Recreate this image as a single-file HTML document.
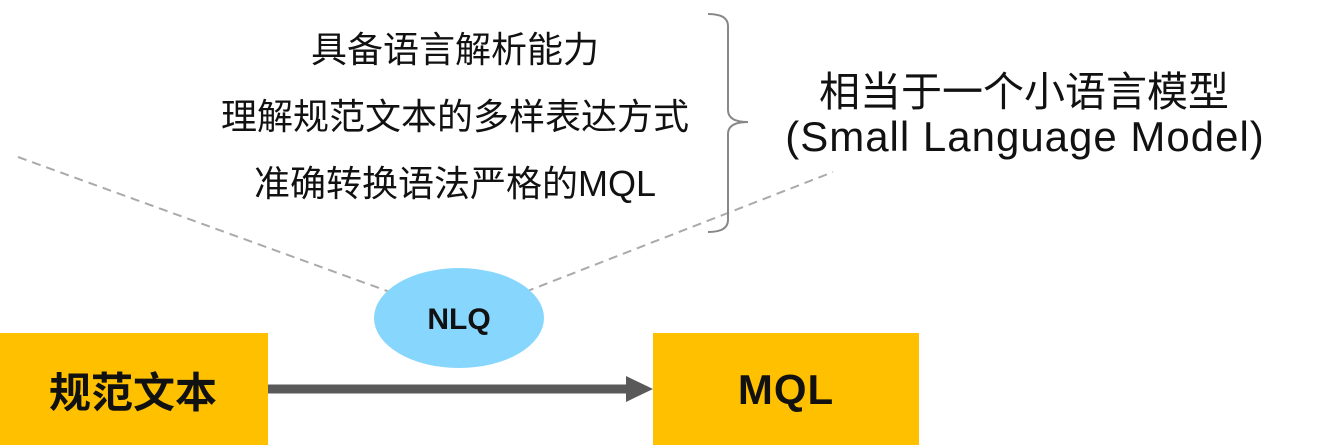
<!DOCTYPE html>
<html><head><meta charset="utf-8"><style>
body{margin:0;width:1320px;height:445px;background:#fff;position:relative;overflow:hidden;font-family:"Liberation Sans","Noto Sans CJK SC",sans-serif;}
.t{position:absolute;white-space:nowrap;text-align:center;transform:translate(-50%,-50%);color:#111;}
</style></head><body>
<svg width="1320" height="445" style="position:absolute;left:0;top:0">
<line x1="18" y1="157" x2="390" y2="292" stroke="#aaa" stroke-width="2" stroke-dasharray="9,6"/>
<line x1="525" y1="292" x2="833" y2="172" stroke="#aaa" stroke-width="2" stroke-dasharray="9,6"/>
<rect x="0" y="333" width="268" height="112" fill="#FFC000"/>
<rect x="653" y="333" width="266" height="112" fill="#FFC000"/>
<line x1="268" y1="389" x2="630" y2="389" stroke="#595959" stroke-width="9"/>
<polygon points="626,376 653,389 626,402" fill="#595959"/>
<ellipse cx="459" cy="318" rx="85" ry="50" fill="#87D6FD"/>
<path d="M708,14 Q728,14 728,26 L728,110 Q728,122 748,122 Q728,122 728,134 L728,220 Q728,232 708,232" fill="none" stroke="#888" stroke-width="2"/>
</svg>
<div class="t" style="left:133px;top:390px;font-size:42px;font-weight:bold">规范文本</div>
<div class="t" style="left:786px;top:390px;font-size:42px;font-weight:bold;letter-spacing:1px">MQL</div>
<div class="t" style="left:459px;top:320px;font-size:30px;font-weight:bold">NLQ</div>
<div class="t" style="left:455px;top:47px;font-size:36px">具备语言解析能力</div>
<div class="t" style="left:455px;top:114px;font-size:36px">理解规范文本的多样表达方式</div>
<div class="t" style="left:455px;top:181px;font-size:36px">准确转换语法严格的MQL</div>
<div class="t" style="left:1024px;top:88px;font-size:41px">相当于一个小语言模型</div>
<div class="t" style="left:1025px;top:137px;font-size:42px;letter-spacing:1px">(Small Language Model)</div>
</body></html>
